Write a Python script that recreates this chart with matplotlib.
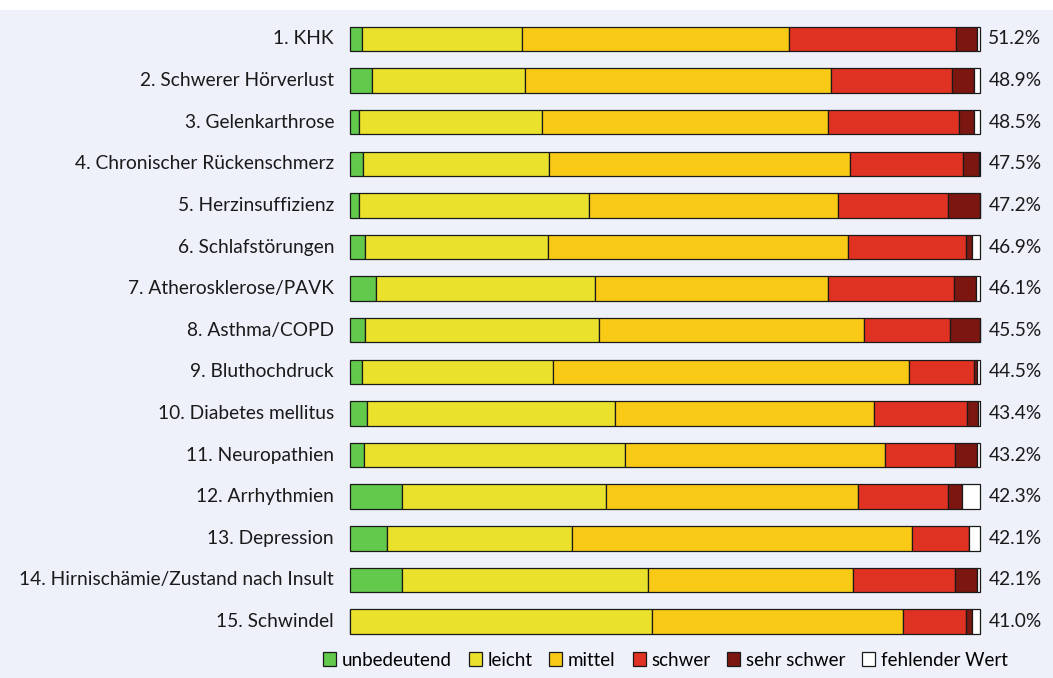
import matplotlib
matplotlib.use("Agg")
import matplotlib.pyplot as plt
from matplotlib.patches import Patch
import numpy as np

plt.rcParams['font.family'] = ['Lato', 'DejaVu Sans']

categories = ["1. KHK", "2. Schwerer Hörverlust", "3. Gelenkarthrose",
              "4. Chronischer Rückenschmerz", "5. Herzinsuffizienz",
              "6. Schlafstörungen", "7. Atherosklerose/PAVK", "8. Asthma/COPD",
              "9. Bluthochdruck", "10. Diabetes mellitus", "11. Neuropathien",
              "12. Arrhythmien", "13. Depression",
              "14. Hirnischämie/Zustand nach Insult", "15. Schwindel"]
unbedeutend = [1.9, 3.5, 1.5, 2.0, 1.5, 2.4, 4.2, 2.4, 1.9, 2.7, 2.2, 8.2, 5.8, 8.2, 0.0]
leicht = [25.4, 24.3, 28.9, 29.6, 36.5, 29.1, 34.7, 37.1, 30.4, 39.3, 41.4, 32.5, 29.5, 39.1, 47.9]
mittel = [42.4, 48.5, 45.5, 47.8, 39.4, 47.5, 36.9, 42.1, 56.4, 41.2, 41.3, 40.0, 53.9, 32.5, 39.8]
schwer = [26.5, 19.2, 20.8, 17.9, 17.6, 18.7, 20.1, 13.7, 10.3, 14.8, 11.2, 14.3, 9.1, 16.3, 10.0]
sehr_schwer = [3.4, 3.5, 2.3, 2.5, 5.0, 1.1, 3.4, 4.7, 0.6, 1.7, 3.5, 2.1, 0.0, 3.4, 1.1]
fehlend = [0.4, 1.0, 1.0, 0.2, 0.0, 1.2, 0.7, 0.0, 0.4, 0.3, 0.4, 2.9, 1.7, 0.5, 1.2]
prozent_labels = ["51.2%", "48.9%", "48.5%", "47.5%", "47.2%", "46.9%", "46.1%",
                  "45.5%", "44.5%", "43.4%", "43.2%", "42.3%", "42.1%", "42.1%", "41.0%"]

series_names = ["unbedeutend", "leicht", "mittel", "schwer", "sehr schwer", "fehlender Wert"]
series = [unbedeutend, leicht, mittel, schwer, sehr_schwer, fehlend]
colors = ["#62c94c", "#eae12c", "#f9ca15", "#e03222", "#7c1610", "#ffffff"]

bg = "#eef1fa"
fig = plt.figure(figsize=(10.53, 6.78), dpi=100)
fig.patch.set_facecolor("white")
fig.patches.append(plt.Rectangle((0, 0), 1, 1 - 10/678, transform=fig.transFigure,
                                 facecolor=bg, edgecolor="none", zorder=-10))

ax = fig.add_axes([350/1053, 0.0527, 630/1053, 0.9205])
ax.set_facecolor("none")

y = np.arange(len(categories))
left = np.zeros(len(categories))
for name, vals, c in zip(series_names, series, colors):
    vals = np.array(vals, dtype=float)
    bars = ax.barh(y, vals, left=left, height=0.59, color=c, edgecolor="#1a1a1a",
                   linewidth=0.9, label=name)
    for b in bars:
        b.set_clip_on(False)
    left += vals

ax.set_xlim(0, left.max())
ax.set_ylim(len(categories) - 0.5, -0.5)
ax.set_xticks([])
ax.set_yticks([])
for s in ax.spines.values():
    s.set_visible(False)

for i, (cat, lab) in enumerate(zip(categories, prozent_labels)):
    ax.annotate(cat, xy=(0, i), xytext=(-11.5, 0), textcoords="offset points",
                ha="right", va="center", fontsize=13.8, color="#1a1a1a")
    ax.annotate(lab, xy=(1, i), xycoords=("axes fraction", "data"),
                xytext=(6, 0), textcoords="offset points",
                ha="left", va="center", fontsize=13.8, color="#1a1a1a")

handles = [Patch(facecolor=c, edgecolor="#1a1a1a", linewidth=0.9) for c in colors]
fig.legend(handles, series_names, loc="center", bbox_to_anchor=(0.632, 0.0265),
           ncol=6, frameon=False, fontsize=13.5, handlelength=0.7, handleheight=0.7,
           handletextpad=0.3, columnspacing=0.9, borderaxespad=0)

fig.savefig("out.png", dpi=100, facecolor=fig.get_facecolor())
